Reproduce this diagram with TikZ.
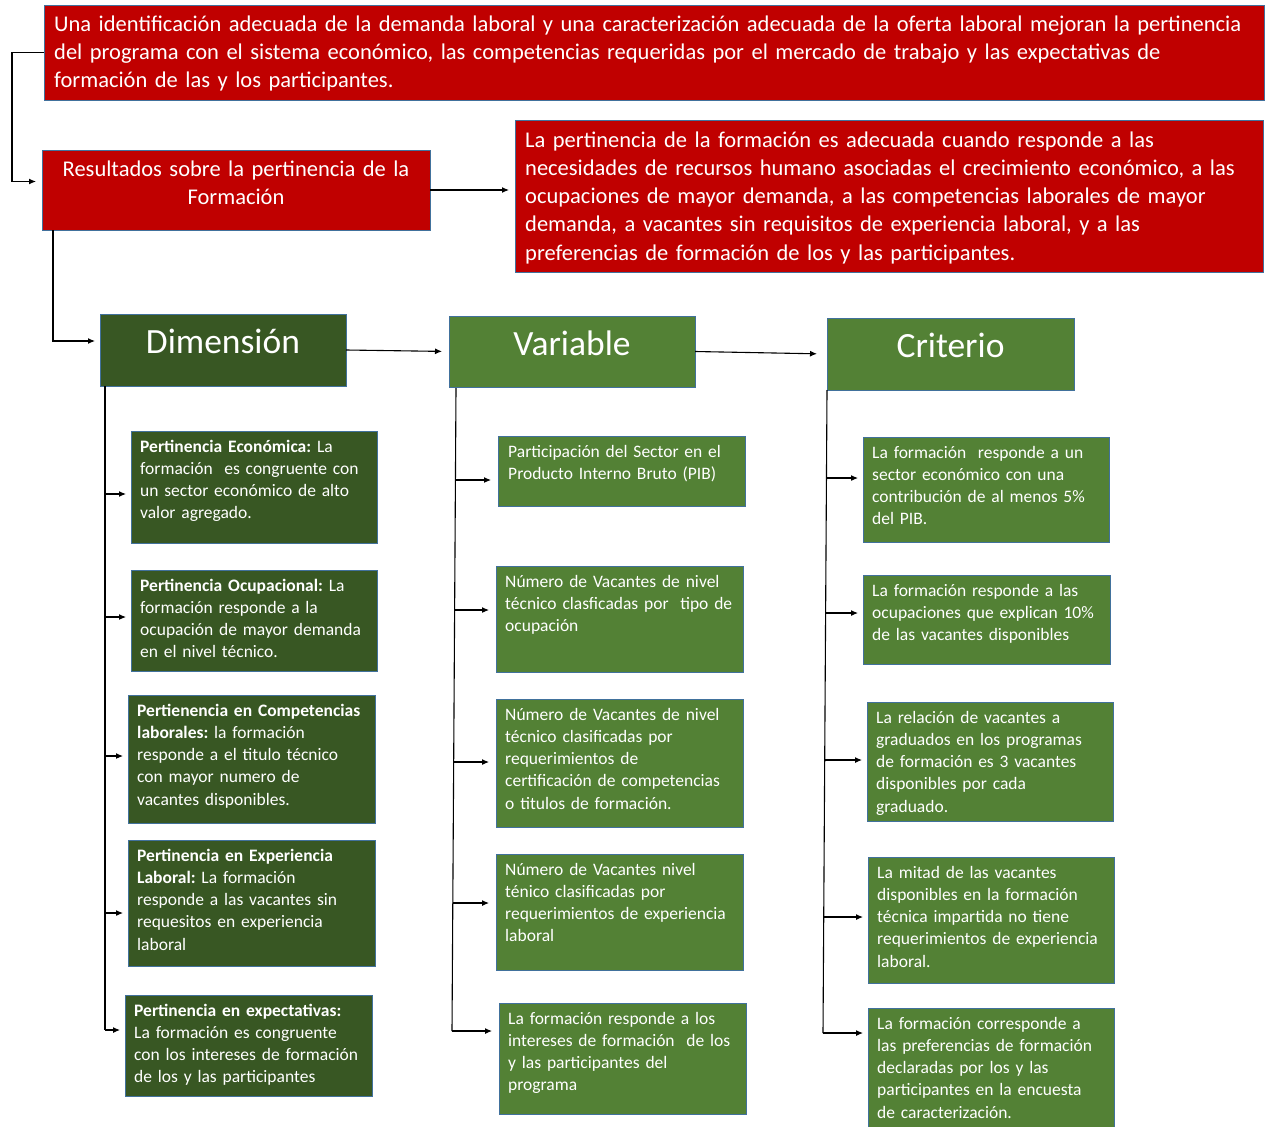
\documentclass[tikz,border=0pt]{standalone}
\usepackage{fontspec}
\setmainfont{Carlito}
\usetikzlibrary{arrows.meta}
\definecolor{rojo}{HTML}{C00000}
\definecolor{verdeosc}{HTML}{385723}
\definecolor{verde}{HTML}{538135}
\definecolor{borde}{HTML}{41719C}
\newcommand\fchica{\frenchspacing\fontsize{17.5}{22.3}\selectfont}
\newcommand\fgrande{\frenchspacing\fontsize{22.5}{28}\selectfont}
\newcommand\ftitulo{\fontsize{35.5}{40}\selectfont}
\tikzset{
  caja/.style={draw=borde, line width=0.9pt, anchor=north west, inner sep=0pt, outer sep=0pt},
  rojocaja/.style={caja, fill=rojo},
  oscuracaja/.style={caja, fill=verdeosc},
  claracaja/.style={caja, fill=verde},
  texto/.style={anchor=base west, inner sep=0pt, text=white, align=left, text width=#1},
  texto/.default=300pt,
  linea/.style={draw=black, line width=1.1pt},
  flecha/.style={linea, -{Latex[length=7pt,width=6pt]}},
}
\begin{document}
\begin{tikzpicture}[x=1pt,y=-1pt]
\useasboundingbox[fill=white] (0,0) rectangle (1265,1126);

% ---------- upper red boxes ----------
\node[rojocaja, minimum width=1220pt, minimum height=95pt] (top) at (44,5) {};
\node[texto=1200pt, font=\fgrande] (topt) at ([xshift=10pt,yshift=-27pt]top.north west)
  {Una identificación adecuada de la demanda laboral y una caracterización adecuada de la oferta laboral mejoran la pertinencia\\
   del programa con el sistema económico, las competencias requeridas por el mercado de trabajo y las expectativas de\\
   formación de las y los participantes.};

\node[rojocaja, minimum width=388pt, minimum height=80pt] (res) at (42,150) {};
\node[anchor=base, inner sep=0pt, text=white, align=center, text width=380pt, font=\fgrande] (rest)
  at ([yshift=-26.5pt]res.north)
  {Resultados sobre la pertinencia de la\\Formación};

\node[rojocaja, minimum width=748pt, minimum height=152pt] (rbox) at (515,120) {};
\node[texto=740pt, font=\fgrande] (rboxt) at ([xshift=10pt,yshift=-28pt]rbox.north west)
  {La pertinencia de la formación es adecuada cuando responde a las\\
   necesidades de recursos humano asociadas el crecimiento económico, a las\\
   ocupaciones de mayor demanda, a las competencias laborales de mayor\\
   demanda, a vacantes sin requisitos de experiencia laboral, y a las\\
   preferencias de formación de los y las participantes.};

% ---------- column headings ----------
\node[oscuracaja, minimum width=246pt, minimum height=72pt] (dim) at (100,314) {};
\node[anchor=base, inner sep=0pt, text=white, font=\ftitulo] (dimt) at ([yshift=-39.5pt]dim.north) {Dimensión};
\node[claracaja, minimum width=246pt, minimum height=71pt] (var) at (449,316) {};
\node[anchor=base, inner sep=0pt, text=white, font=\ftitulo] (vart) at ([yshift=-39.5pt]var.north) {Variable};
\node[claracaja, minimum width=247pt, minimum height=72pt] (cri) at (827,318) {};
\node[anchor=base, inner sep=0pt, text=white, font=\ftitulo] (crit) at ([yshift=-39.5pt]cri.north) {Criterio};

% ---------- Dimensión column ----------
\node[oscuracaja, minimum width=246pt, minimum height=112pt] (d1) at (131,431) {};
\node[texto, font=\fchica] (d1t) at ([xshift=9pt,yshift=-21pt]d1.north west)
  {\textbf{Pertinencia Económica:} La\\formación~ es congruente con\\un sector económico de alto\\valor agregado.};
\node[oscuracaja, minimum width=246pt, minimum height=101pt] (d2) at (131,570) {};
\node[texto, font=\fchica] (d2t) at ([xshift=9pt,yshift=-21pt]d2.north west)
  {\textbf{Pertinencia Ocupacional:} La\\formación responde a la\\ocupación de mayor demanda\\en el nivel técnico.};
\node[oscuracaja, minimum width=247pt, minimum height=128pt] (d3) at (128,695) {};
\node[texto, font=\fchica] (d3t) at ([xshift=9pt,yshift=-21pt]d3.north west)
  {\textbf{Pertienencia en Competencias}\\\textbf{laborales:} la formación\\responde a el titulo técnico\\con mayor numero de\\vacantes disponibles.};
\node[oscuracaja, minimum width=247pt, minimum height=126pt] (d4) at (128,840) {};
\node[texto, font=\fchica] (d4t) at ([xshift=9pt,yshift=-21pt]d4.north west)
  {\textbf{Pertinencia en Experiencia}\\\textbf{Laboral:} La formación\\responde a las vacantes sin\\requesitos en experiencia\\laboral};
\node[oscuracaja, minimum width=247pt, minimum height=101pt] (d5) at (125,995) {};
\node[texto, font=\fchica] (d5t) at ([xshift=9pt,yshift=-21pt]d5.north west)
  {\textbf{Pertinencia en expectativas:}\\La formación es congruente\\con los intereses de formación\\de los y las participantes};

% ---------- Variable column ----------
\node[claracaja, minimum width=247pt, minimum height=70pt] (v1) at (498,436) {};
\node[texto, font=\fchica] (v1t) at ([xshift=10pt,yshift=-21pt]v1.north west)
  {Participación del Sector en el\\Producto Interno Bruto (PIB)};
\node[claracaja, minimum width=247pt, minimum height=106pt] (v2) at (496,566) {};
\node[texto, font=\fchica] (v2t) at ([xshift=9pt,yshift=-21pt]v2.north west)
  {Número de Vacantes de nivel\\técnico clasficadas por~ tipo de\\ocupación};
\node[claracaja, minimum width=247pt, minimum height=128pt] (v3) at (496,699) {};
\node[texto, font=\fchica] (v3t) at ([xshift=9pt,yshift=-21pt]v3.north west)
  {Número de Vacantes de nivel\\técnico clasificadas por\\requerimientos de\\certificación de competencias\\o titulos de formación.};
\node[claracaja, minimum width=247pt, minimum height=116pt] (v4) at (496,854) {};
\node[texto, font=\fchica] (v4t) at ([xshift=9pt,yshift=-21pt]v4.north west)
  {Número de Vacantes nivel\\ténico clasificadas por\\requerimientos de experiencia\\laboral};
\node[claracaja, minimum width=247pt, minimum height=111pt] (v5) at (499,1003) {};
\node[texto, font=\fchica] (v5t) at ([xshift=9pt,yshift=-21pt]v5.north west)
  {La formación responde a los\\intereses de formación~ de los\\y las participantes del\\programa};

% ---------- Criterio column ----------
\node[claracaja, minimum width=246pt, minimum height=105pt] (c1) at (863,437) {};
\node[texto, font=\fchica] (c1t) at ([xshift=9pt,yshift=-21pt]c1.north west)
  {La formación~ responde a un\\sector económico con una\\contribución de al menos 5\%\\del PIB.};
\node[claracaja, minimum width=247pt, minimum height=89pt] (c2) at (863,575) {};
\node[texto, font=\fchica] (c2t) at ([xshift=9pt,yshift=-21pt]c2.north west)
  {La formación responde a las\\ocupaciones que explican 10\%\\de las vacantes disponibles};
\node[claracaja, minimum width=246pt, minimum height=119pt] (c3) at (867,702) {};
\node[texto, font=\fchica] (c3t) at ([xshift=9pt,yshift=-21pt]c3.north west)
  {La relación de vacantes a\\graduados en los programas\\de formación es 3 vacantes\\disponibles por cada\\graduado.};
\node[claracaja, minimum width=246pt, minimum height=126pt] (c4) at (868,857) {};
\node[texto, font=\fchica] (c4t) at ([xshift=9pt,yshift=-21pt]c4.north west)
  {La mitad de las vacantes\\disponibles en la formación\\técnica impartida no tiene\\requerimientos de experiencia\\laboral.};
\node[claracaja, minimum width=246pt, minimum height=124pt] (c5) at (868,1008) {};
\node[texto, font=\fchica] (c5t) at ([xshift=9pt,yshift=-21pt]c5.north west)
  {La formación corresponde a\\las preferencias de formación\\declaradas por los y las\\participantes en la encuesta\\de caracterización.};

% ---------- connectors between the upper boxes ----------
\coordinate (resin) at (36,181.5);
\draw[flecha] (top.west) -- ++(-32,0) |- (resin);
\draw[flecha, shorten >=6pt] (res.east) -- (res.east -| rbox.west);
\coordinate (dimin) at (95,341);
\draw[flecha] ([xshift=11pt]res.south west) |- (dimin);
\draw[flecha, shorten >=7pt] (dim.east) -- (var.west);
\draw[flecha, shorten >=10pt] (var.east) -- (cri.west);

% ---------- Dimensión spine ----------
\coordinate (db1) at (105,494);
\coordinate (db2) at (105,617);
\coordinate (db3) at (105,756);
\coordinate (db4) at (105,913);
\coordinate (db5) at (105,1030);
\draw[linea] ([xshift=5pt]dim.south west) -- (db5);
\foreach \i in {1,...,5} \draw[flecha, shorten >=5pt] (db\i) -- (db\i -| d\i.west);

% ---------- Variable spine ----------
\coordinate (vb1) at (455.4,480);
\coordinate (vb2) at (454.6,610);
\coordinate (vb3) at (453.7,762);
\coordinate (vb4) at (452.8,903);
\coordinate (vb5) at (452,1031);
\draw[linea] (456,388) -- (vb5);
\foreach \i in {1,...,5} \draw[flecha, shorten >=7pt] (vb\i) -- (vb\i -| v\i.west);

% ---------- Criterio spine ----------
\coordinate (cb1) at (826.5,478);
\coordinate (cb2) at (825.6,613);
\coordinate (cb3) at (824.7,760);
\coordinate (cb4) at (823.7,917);
\coordinate (cb5) at (823,1033);
\draw[linea] (827,390) -- (cb5);
\foreach \i in {1,...,5} \draw[flecha, shorten >=5pt] (cb\i) -- (cb\i -| c\i.west);
\end{tikzpicture}
\end{document}
